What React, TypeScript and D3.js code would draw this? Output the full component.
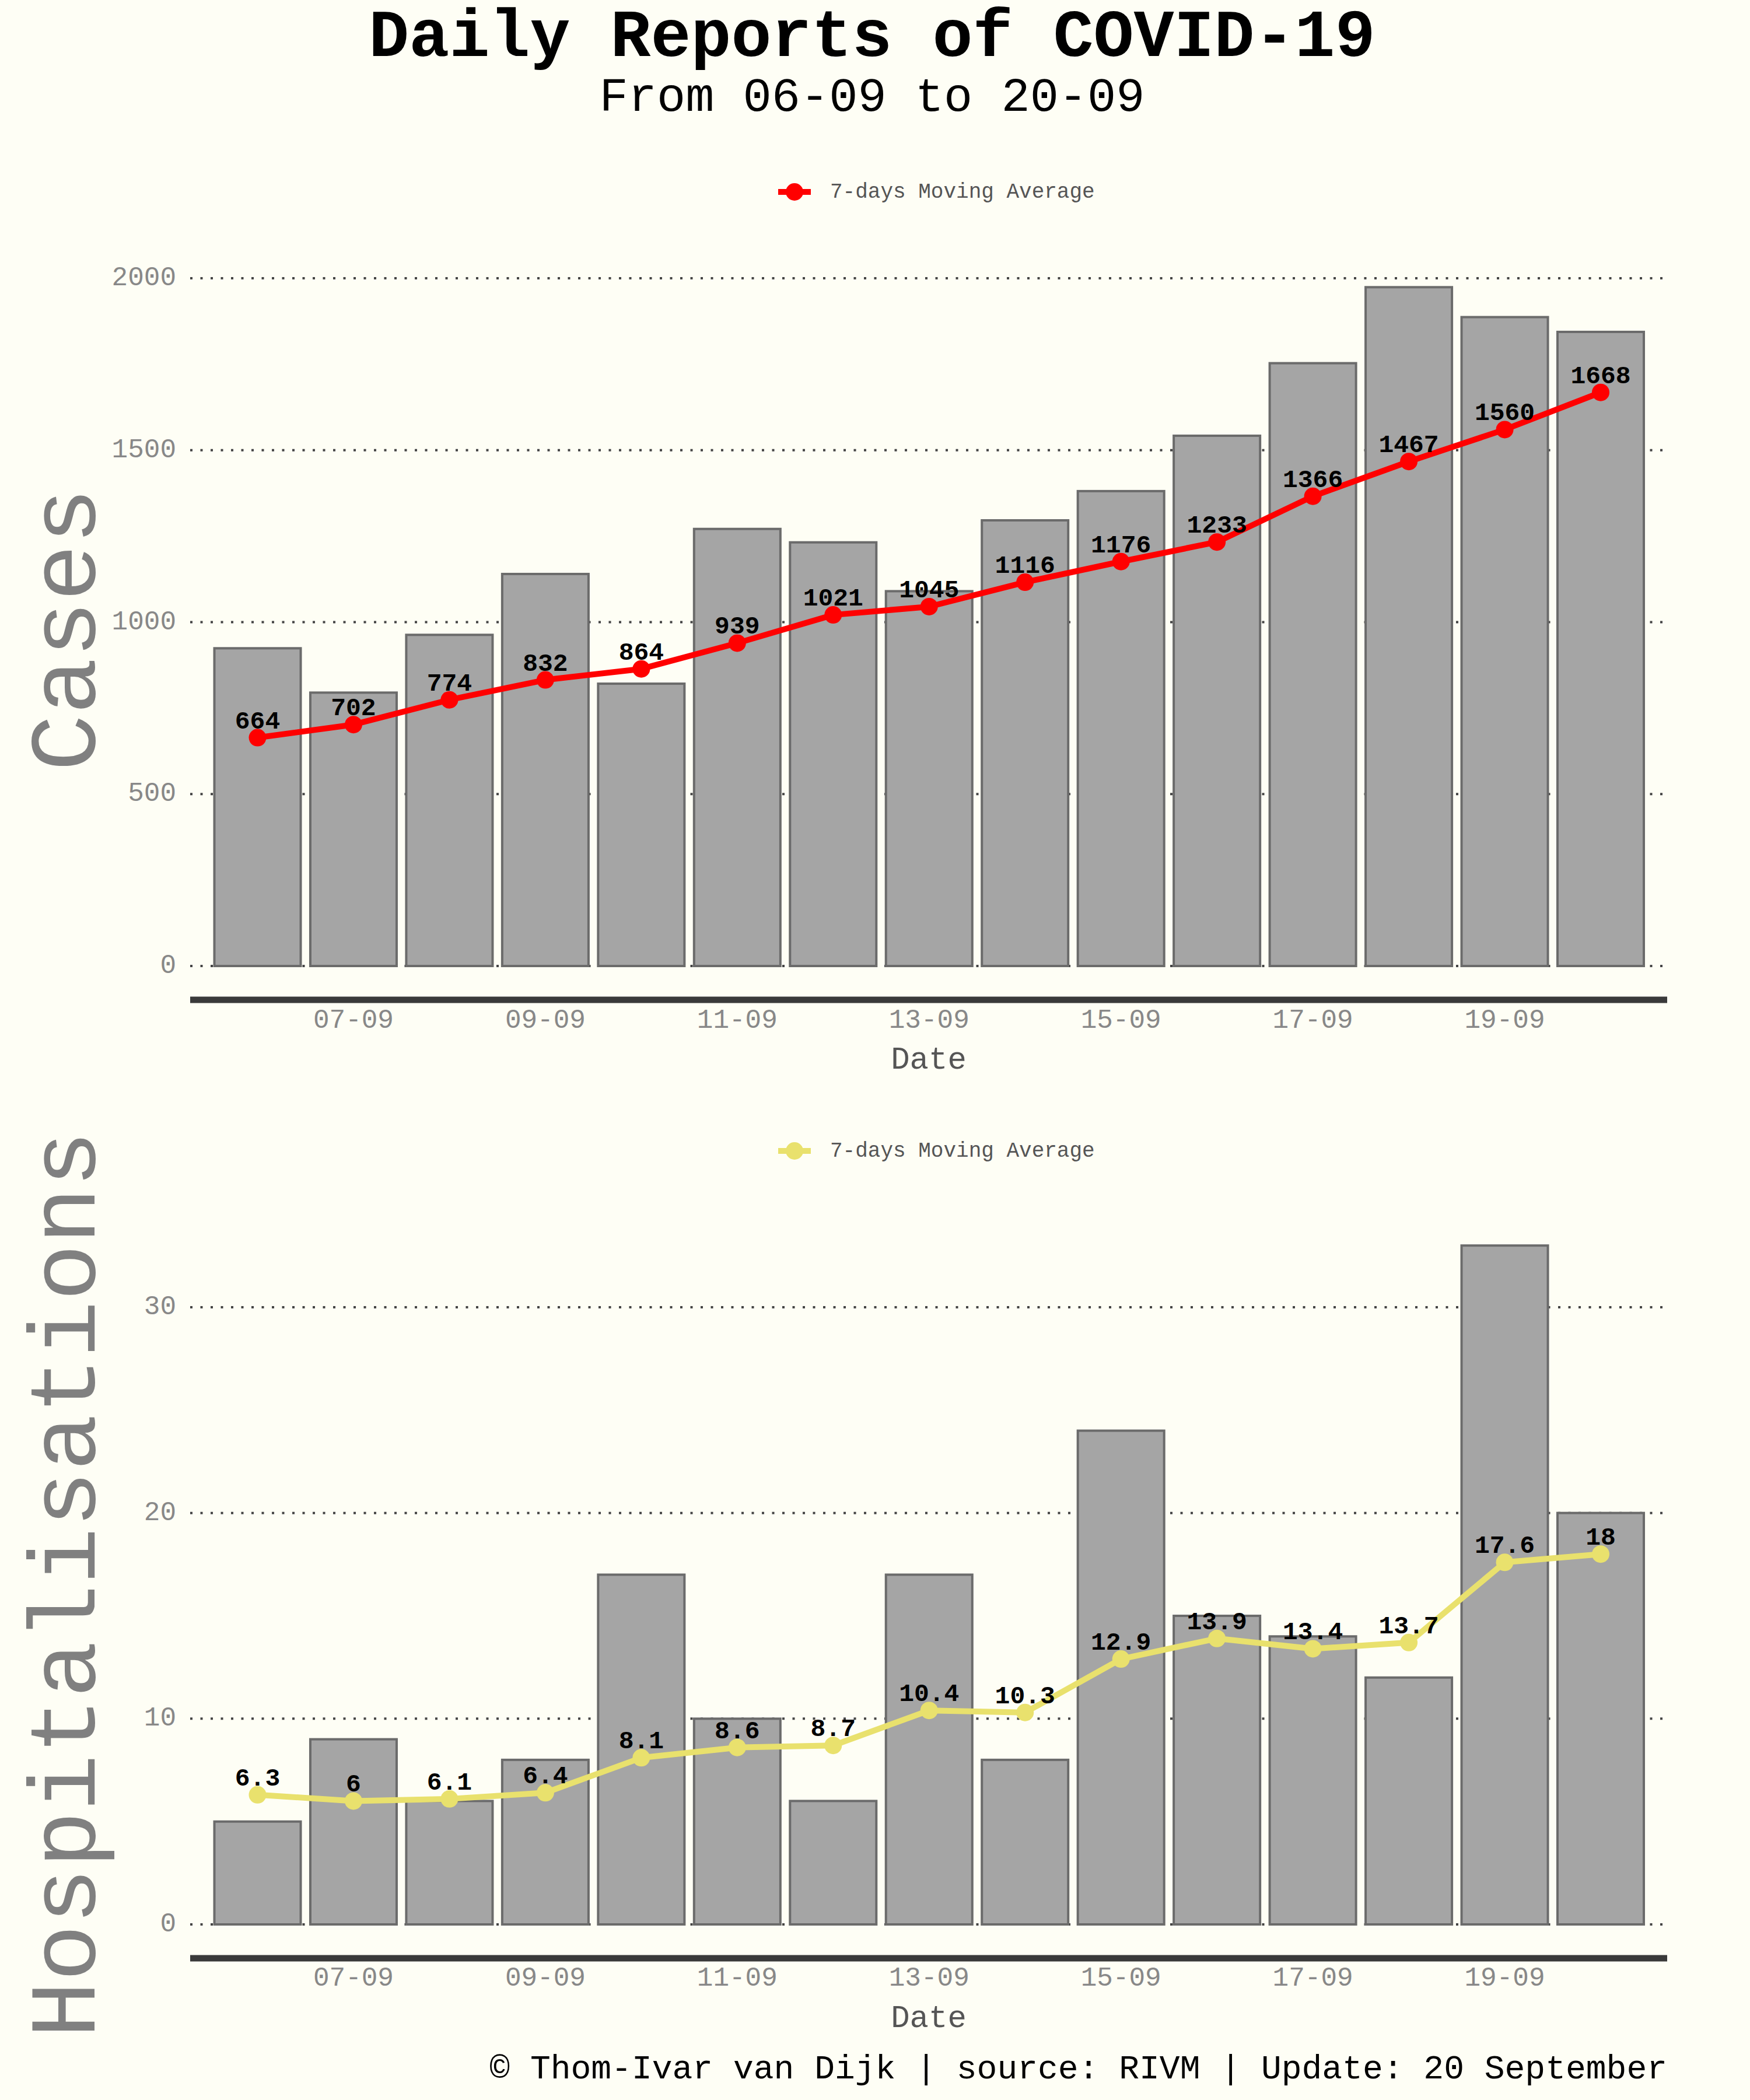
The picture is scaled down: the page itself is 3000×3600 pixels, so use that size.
import React from "react";
import * as d3 from "d3";

const dates = ["06-09","07-09","08-09","09-09","10-09","11-09","12-09","13-09","14-09","15-09","16-09","17-09","18-09","19-09","20-09"];
const xTickLabels = ["07-09","09-09","11-09","13-09","15-09","17-09","19-09"];
const cases = [924, 795, 963, 1140, 821, 1271, 1232, 1090, 1296, 1381, 1542, 1753, 1974, 1887, 1844];
const casesMA = [664, 702, 774, 832, 864, 939, 1021, 1045, 1116, 1176, 1233, 1366, 1467, 1560, 1668];
const hosp = [5, 9, 6, 8, 17, 10, 6, 17, 8, 24, 15, 14, 12, 33, 20];
const hospMA = [6.3, 6, 6.1, 6.4, 8.1, 8.6, 8.7, 10.4, 10.3, 12.9, 13.9, 13.4, 13.7, 17.6, 18];
const casesTicks = [0, 500, 1000, 1500, 2000];
const hospTicks = [0, 10, 20, 30];

const FONT = "'Liberation Mono', 'DejaVu Sans Mono', monospace";
const BG = "#fefef5";

const x = d3.scalePoint<string>().domain(dates).range([441.5, 2744]);
const step = x.step();
const barW = step * 0.9;
const plotLeft = 326;
const plotRight = 2858;

type PanelProps = {
  values: number[];
  ma: number[];
  color: string;
  domain: [number, number];
  range: [number, number];
  ticks: number[];
  ylabel: string;
  ylabelY: number;
  legendY: number;
  axisY: number;
  tickY: number;
  xlabelY: number;
};

function Panel(p: PanelProps) {
  const y = d3.scaleLinear().domain(p.domain).range(p.range);
  const line = d3
    .line<number>()
    .x((_, i) => x(dates[i]) as number)
    .y((d) => y(d));
  return (
    <g>
      <line x1={1334} x2={1390} y1={p.legendY} y2={p.legendY} stroke={p.color} strokeWidth={10} />
      <circle cx={1362} cy={p.legendY} r={15} fill={p.color} />
      <text x={1423} y={p.legendY} dominantBaseline="central" fontFamily={FONT} fontSize={36} fill="#555">
        7-days Moving Average
      </text>
      {p.ticks.map((t) => (
        <g key={t}>
          <line
            x1={plotLeft}
            x2={plotRight}
            y1={y(t)}
            y2={y(t)}
            stroke="#444"
            strokeWidth={4}
            strokeDasharray="4 13.5"
          />
          <text x={302} y={y(t)} textAnchor="end" dominantBaseline="central" fontFamily={FONT} fontSize={46} fill="#888">
            {t}
          </text>
        </g>
      ))}
      {p.values.map((v, i) => (
        <rect
          key={i}
          x={(x(dates[i]) as number) - barW / 2}
          y={y(v)}
          width={barW}
          height={y(0) - y(v)}
          fill="#a5a5a5"
          stroke="#6b6b6b"
          strokeWidth={4}
        />
      ))}
      <path d={line(p.ma) || ""} fill="none" stroke={p.color} strokeWidth={10} strokeLinejoin="round" />
      {p.ma.map((v, i) => (
        <circle key={i} cx={x(dates[i]) as number} cy={y(v)} r={15} fill={p.color} />
      ))}
      {p.ma.map((v, i) => (
        <text
          key={i}
          x={x(dates[i]) as number}
          y={y(v) - 16}
          textAnchor="middle"
          fontFamily={FONT}
          fontWeight="bold"
          fontSize={43}
          fill="#000"
        >
          {String(v)}
        </text>
      ))}
      <line x1={plotLeft} x2={plotRight} y1={p.axisY} y2={p.axisY} stroke="#3a3a3a" strokeWidth={11} />
      {xTickLabels.map((t) => (
        <text
          key={t}
          x={x(t) as number}
          y={p.tickY}
          textAnchor="middle"
          dominantBaseline="central"
          fontFamily={FONT}
          fontSize={46}
          fill="#888"
        >
          {t}
        </text>
      ))}
      <text x={(plotLeft + plotRight) / 2} y={p.xlabelY} textAnchor="middle" fontFamily={FONT} fontSize={54} fill="#555">
        Date
      </text>
      <text
        transform={`translate(162,${p.ylabelY}) rotate(-90)`}
        textAnchor="middle"
        fontFamily={FONT}
        fontSize={162}
        fill="#808080"
      >
        {p.ylabel}
      </text>
    </g>
  );
}

export default function App() {
  return (
    <svg
      width={3000}
      height={3600}
      viewBox="0 0 3000 3600"
      style={{ position: "absolute", left: 0, top: 0, display: "block" }}
    >
      <rect x={0} y={0} width={3000} height={3600} fill={BG} />
      <text x={1495} y={96} textAnchor="middle" fontFamily={FONT} fontWeight="bold" fontSize={115} fill="#000">
        Daily Reports of COVID-19
      </text>
      <text x={1495} y={190} textAnchor="middle" fontFamily={FONT} fontSize={82} fill="#000">
        From 06-09 to 20-09
      </text>
      <Panel
        values={cases}
        ma={casesMA}
        color="#ff0000"
        domain={[0, 2000]}
        range={[1656, 477]}
        ticks={casesTicks}
        ylabel="Cases"
        ylabelY={1079}
        legendY={329}
        axisY={1714}
        tickY={1750}
        xlabelY={1832}
      />
      <Panel
        values={hosp}
        ma={hospMA}
        color="#e9e16d"
        domain={[0, 30]}
        range={[3299, 2241]}
        ticks={hospTicks}
        ylabel="Hospitalisations"
        ylabelY={2716}
        legendY={1973}
        axisY={3357}
        tickY={3392}
        xlabelY={3475}
      />
      <text x={2858} y={3563} textAnchor="end" fontFamily={FONT} fontSize={58} fill="#000">
        © Thom-Ivar van Dijk | source: RIVM | Update: 20 September
      </text>
    </svg>
  );
}
